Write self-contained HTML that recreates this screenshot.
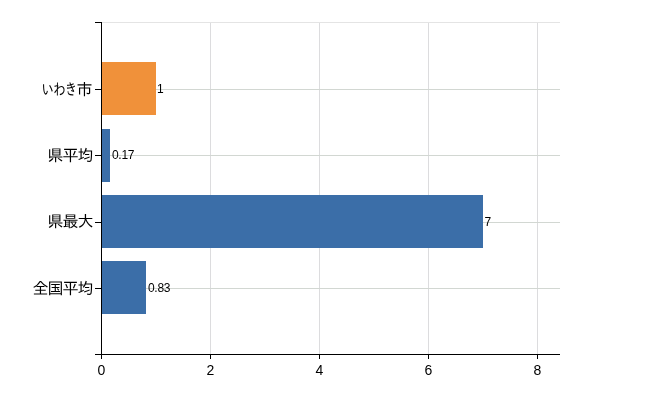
<!DOCTYPE html>
<html lang="ja">
<head>
<meta charset="utf-8">
<title>いわき市 比較グラフ</title>
<style>
  html, body { margin: 0; padding: 0; background: #ffffff; }
  body { width: 650px; height: 400px; overflow: hidden; }
  svg { display: block; }
  .axis rect { fill: #000000; }
  .gridh rect { fill: #d2d7d2; }
  .gridv rect { fill: #dcdcde; }
  .gridv rect.top { fill: #e4e4e4; }
  .bar { fill: #3b6ea8; }
  .bar.self { fill: #f0913a; }
  .ylabel { font-family: "Liberation Sans", "IPAGothic", sans-serif; font-size: 16px; letter-spacing: -1px; fill: #000; text-anchor: end; }
  .ylabel.kana { text-anchor: start; }
  .xlabel { font-family: "Liberation Sans", sans-serif; font-size: 14px; fill: #000; text-anchor: middle; }
  .vlabel { font-family: "Liberation Sans", sans-serif; font-size: 12px; letter-spacing: -0.3px; fill: #000; text-anchor: start; }
</style>
</head>
<body>
<svg width="650" height="400" viewBox="0 0 650 400" shape-rendering="crispEdges">
  <rect x="0" y="0" width="650" height="400" fill="#ffffff"/>

  <!-- grid -->
  <g class="gridv">
    <rect x="210" y="22" width="1" height="332"/>
    <rect x="319" y="22" width="1" height="332"/>
    <rect x="428" y="22" width="1" height="332"/>
    <rect x="537" y="22" width="1" height="332"/>
    <rect class="top" x="102" y="22" width="458" height="1"/>
  </g>
  <g class="gridh">
    <rect x="102" y="89" width="458" height="1"/>
    <rect x="102" y="155" width="458" height="1"/>
    <rect x="102" y="222" width="458" height="1"/>
    <rect x="102" y="288" width="458" height="1"/>
  </g>

  <!-- bars -->
  <rect class="bar self" x="102" y="62" width="54" height="53"/>
  <rect class="bar" x="102" y="129" width="8" height="53"/>
  <rect class="bar" x="102" y="195" width="381" height="53"/>
  <rect class="bar" x="102" y="261" width="44" height="53"/>

  <!-- value labels -->
  <text class="vlabel" x="157" y="93">1</text>
  <text class="vlabel" x="112" y="159">0.17</text>
  <text class="vlabel" x="484.5" y="226">7</text>
  <text class="vlabel" x="148" y="292">0.83</text>

  <!-- axes -->
  <g class="axis">
    <rect x="101" y="22" width="1" height="333"/>
    <rect x="95" y="22" width="6" height="1"/>
    <rect x="95" y="354" width="465" height="1"/>
    <rect x="95" y="89" width="6" height="1"/>
    <rect x="95" y="155" width="6" height="1"/>
    <rect x="95" y="222" width="6" height="1"/>
    <rect x="95" y="288" width="6" height="1"/>
    <rect x="101" y="355" width="1" height="4"/>
    <rect x="210" y="355" width="1" height="4"/>
    <rect x="319" y="355" width="1" height="4"/>
    <rect x="428" y="355" width="1" height="4"/>
    <rect x="537" y="355" width="1" height="4"/>
  </g>

  <!-- y labels -->
  <text class="ylabel kana" y="95"><tspan x="41.5" textLength="35" lengthAdjust="spacingAndGlyphs">いわき</tspan><tspan x="76.5">市</tspan></text>
  <text class="ylabel" x="92.5" y="161">県平均</text>
  <text class="ylabel" x="92.5" y="227">県最大</text>
  <text class="ylabel" x="92.5" y="294">全国平均</text>

  <!-- x labels -->
  <text class="xlabel" x="101.5" y="375">0</text>
  <text class="xlabel" x="210.5" y="375">2</text>
  <text class="xlabel" x="319.5" y="375">4</text>
  <text class="xlabel" x="428.5" y="375">6</text>
  <text class="xlabel" x="537.5" y="375">8</text>
</svg>
</body>
</html>
